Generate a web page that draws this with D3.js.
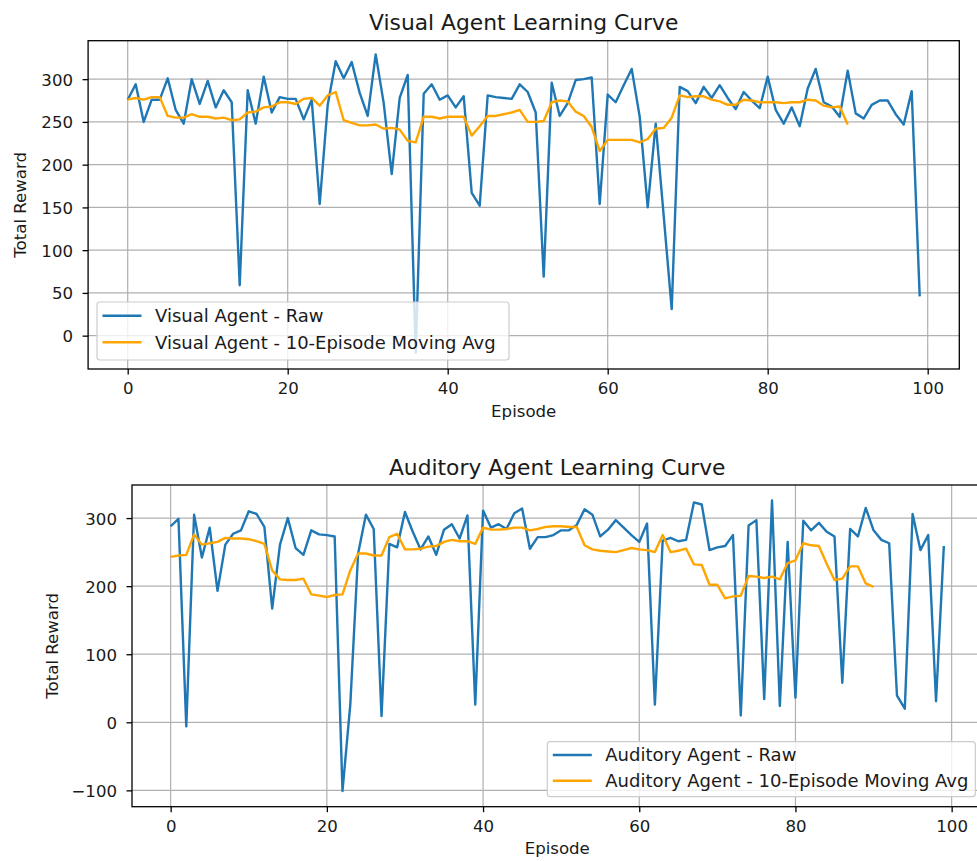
<!DOCTYPE html>
<html><head><meta charset="utf-8">
<script src="https://cdn.jsdelivr.net/npm/d3@7"></script>
<style>
html,body{margin:0;padding:0;background:#fff;}
svg{display:block;font-family:"DejaVu Sans",sans-serif;}
</style></head><body><svg id="chart" width="977" height="861"></svg>
<script>
// ---- data ----
const visualRaw = [276,294,250,276,276,301,264,248,300,271,
  298,267,287,273,59,287,248,303,261,279,
  277,277,253,276,154,270,321,301,320,284,
  257,329,272,189,278,305,-20,283,294,276,
  281,267,280,167,152,281,279,278,277,294,
  285,261,69,296,257,272,299,300,302,154,
  282,273,293,312,256,150,248,140,31,291,
  286,272,291,278,293,278,265,285,275,266,
  303,264,248,267,245,289,312,273,268,256,
  310,260,254,270,275,275,259,247,286,46];
const visualAvg = [276,278,276,279,279,257,255,255,259,256,
  256,254,255,252,253,261,262,267,268,273,
  273,271,277,278,269,281,285,252,249,246,
  246,247,242,243,241,228,226,256,256,254,
  256,256,256,234,245,257,257,259,261,264,
  250,250,251,273,275,274,262,257,244,216,
  229,229,229,229,226,230,242,243,255,281,
  279,280,280,276,274,270,270,276,275,273,
  273,273,272,273,273,276,275,269,267,268,
  247];
const auditoryRaw = [288,299,-6,305,242,286,193,261,277,282,
  310,306,287,167,261,300,256,246,282,276,
  275,273,-101,26,248,305,284,9,262,257,
  309,280,254,273,246,283,291,270,304,26,
  311,286,291,284,307,314,255,272,272,275,
  282,282,290,313,305,273,283,297,286,275,
  265,292,26,267,271,266,268,323,320,253,
  257,259,275,10,289,297,34,326,24,265,
  36,296,282,293,280,273,58,284,273,315,
  282,268,263,39,20,306,253,275,31,259];
const auditoryAvg = [243,245,246,276,261,263,265,271,270,270,
  269,266,262,223,210,209,209,211,188,186,
  184,187,188,223,248,248,245,245,272,277,
  254,254,255,258,259,265,268,266,266,262,
  286,283,283,284,286,286,282,284,287,288,
  288,287,287,260,254,252,251,250,253,256,
  254,253,250,275,250,252,255,232,231,202,
  202,182,185,186,215,214,212,214,210,234,
  238,263,260,259,233,209,211,229,229,204,
  199];
const xTicks = [0,20,40,60,80,100];
const visualYTicks = [0,50,100,150,200,250,300];
const auditoryYTicks = [-100,0,100,200,300];
const seriesColors = ["#1f77b4","orange"];

// ---- layout ----
const panels = [
  {title:"Visual Agent Learning Curve", raw:visualRaw, avg:visualAvg,
   labels:["Visual Agent - Raw","Visual Agent - 10-Episode Moving Avg"],
   yTicks:visualYTicks, xRange:[88.1,959.3], yDomain:[-39,345], yRange:[369,40.7],
   titleY:29.5, tickLabelY:394, xLabelY:417, yLabelX:26, yTickRight:73,
   legend:{x:97,y:302,w:412,h:58,row1:315.7,gap:26.6}},
  {title:"Auditory Agent Learning Curve", raw:auditoryRaw, avg:auditoryAvg,
   labels:["Auditory Agent - Raw","Auditory Agent - 10-Episode Moving Avg"],
   yTicks:auditoryYTicks, xRange:[132,982.5], yDomain:[-124,348.6], yRange:[806.7,485],
   titleY:474.5, tickLabelY:832, xLabelY:854, yLabelX:58, yTickRight:117,
   legend:{x:547.3,y:741.7,w:428,h:55,row1:755,gap:25.7}}
];

const svg = d3.select("#chart");
svg.append("rect").attr("width",977).attr("height",861).attr("fill","#fff");

panels.forEach(p => {
  const x = d3.scaleLinear().domain([-4.95,103.95]).range(p.xRange);
  const y = d3.scaleLinear().domain(p.yDomain).range(p.yRange);
  const g = svg.append("g");
  const [L,R] = p.xRange, [B,T] = p.yRange;

  // grid
  const grid = g.append("g");
  grid.selectAll("line.vx").data(xTicks).join("line")
    .attr("x1",d=>x(d)).attr("x2",d=>x(d)).attr("y1",T).attr("y2",B)
    .attr("stroke","#b0b0b0").attr("stroke-width",1.2);
  grid.selectAll("line.hy").data(p.yTicks).join("line")
    .attr("x1",L).attr("x2",R).attr("y1",d=>y(d)).attr("y2",d=>y(d))
    .attr("stroke","#b0b0b0").attr("stroke-width",1.2);

  // lines
  const clipId = "clip"+Math.round(p.titleY);
  svg.append("clipPath").attr("id",clipId).append("rect")
    .attr("x",L).attr("y",T).attr("width",R-L).attr("height",B-T);
  const line = d3.line().x((d,i)=>x(i)).y(d=>y(d));
  g.append("path").datum(p.raw).attr("d",line).attr("fill","none")
    .attr("stroke",seriesColors[0]).attr("stroke-width",2.4).attr("stroke-linejoin","round")
    .attr("clip-path",`url(#${clipId})`);
  g.append("path").datum(p.avg).attr("d",line).attr("fill","none")
    .attr("stroke",seriesColors[1]).attr("stroke-width",2.4).attr("stroke-linejoin","round")
    .attr("clip-path",`url(#${clipId})`);

  // frame
  g.append("rect").attr("x",L).attr("y",T).attr("width",R-L).attr("height",B-T)
    .attr("fill","none").attr("stroke","#000").attr("stroke-width",1.3);

  // x axis
  const xa = g.append("g").attr("transform",`translate(0,${B})`)
    .call(d3.axisBottom(x).tickValues(xTicks).tickSize(5.5).tickPadding(0).tickFormat(d3.format("d")));
  xa.select(".domain").remove();
  xa.selectAll(".tick line").attr("stroke","#000").attr("stroke-width",1.3);
  xa.selectAll(".tick text").attr("y",p.tickLabelY-B).attr("dy",0)
    .attr("font-size","16.6px").attr("fill","#1a1a1a").attr("font-family","DejaVu Sans");

  // y axis
  const ya = g.append("g").attr("transform",`translate(${L},0)`)
    .call(d3.axisLeft(y).tickValues(p.yTicks).tickSize(5.5).tickFormat(d=>d3.format("d")(d).replace("-","\u2212")));
  ya.select(".domain").remove();
  ya.selectAll(".tick line").attr("stroke","#000").attr("stroke-width",1.3);
  ya.selectAll(".tick text").attr("x",p.yTickRight-L).attr("dy","0.36em")
    .attr("font-size","16.6px").attr("fill","#1a1a1a").attr("font-family","DejaVu Sans");

  // texts
  svg.append("text").attr("x",(L+R)/2).attr("y",p.titleY).attr("text-anchor","middle")
    .attr("font-size","21.8px").attr("fill","#1a1a1a").text(p.title);
  svg.append("text").attr("x",(L+R)/2).attr("y",p.xLabelY).attr("text-anchor","middle")
    .attr("font-size","16.6px").attr("fill","#1a1a1a").text("Episode");
  svg.append("text").attr("transform",`translate(${p.yLabelX},${(T+B)/2}) rotate(-90)`)
    .attr("text-anchor","middle").attr("font-size","16.6px").attr("fill","#1a1a1a").text("Total Reward");

  // legend
  const lg = p.legend;
  const leg = svg.append("g");
  leg.append("rect").attr("x",lg.x).attr("y",lg.y).attr("width",lg.w).attr("height",lg.h)
    .attr("rx",3).attr("fill","#fff").attr("fill-opacity",0.8).attr("stroke","#cccccc").attr("stroke-width",1.2);
  p.labels.forEach((lab,i) => {
    const yy = lg.row1 + i*lg.gap;
    leg.append("line").attr("x1",lg.x+5.5).attr("x2",lg.x+44.5).attr("y1",yy).attr("y2",yy)
      .attr("stroke",seriesColors[i]).attr("stroke-width",2.4);
    leg.append("text").attr("x",lg.x+58).attr("y",yy).attr("dy","0.36em")
      .attr("font-size","18px").attr("fill","#1a1a1a").text(lab);
  });
});
</script></body></html>
